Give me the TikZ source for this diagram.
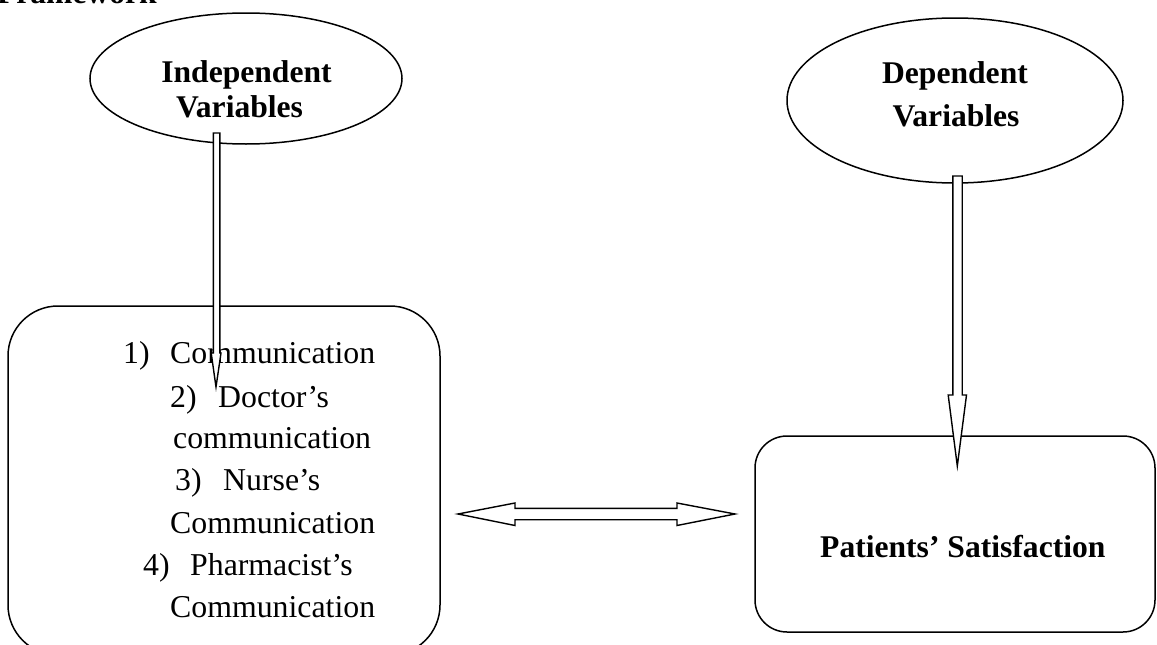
\documentclass[tikz,border=0pt]{standalone}
\usepackage{fontspec}
\setmainfont{Liberation Serif}
\usetikzlibrary{shapes.geometric}
\begin{document}
\begin{tikzpicture}[x=1pt,y=-1pt,
  outline/.style={draw=black,line width=1.5pt},
  oval/.style={outline,ellipse,inner sep=0pt},
  roundbox/.style={outline,rectangle,inner sep=0pt},
  blockarrow/.style={draw=black,fill=white,line width=1.4pt,line join=miter},
  boldtxt/.style={inner sep=0pt,font=\fontsize{31.6}{38}\selectfont\bfseries},
  plaintxt/.style={inner sep=0pt,anchor=base west,font=\fontsize{31.8}{38}\selectfont}]
\useasboundingbox (0,0) rectangle (1157,645);
% title (clipped at top)
\node[boldtxt,anchor=base east] (title) at (157,3) {Framework};
% ellipses
\node[oval,minimum width=312pt,minimum height=131pt] (indep) at (246,78.5) {};
\node[oval,minimum width=336pt,minimum height=165pt] (dep) at (955,100.5) {};
\node[boldtxt,anchor=base] (indepA) at (246.5,82) {Independent};
\node[boldtxt,anchor=base] (indepB) at (239.5,117) {Variables};
\node[boldtxt,anchor=base] (depA) at (955,83) {Dependent};
\node[boldtxt,anchor=base] (depB) at (956,126) {Variables};
% boxes
\node[roundbox,rounded corners=50pt,minimum width=432pt,minimum height=349pt] (left) at (224,480.5) {};
\node[roundbox,rounded corners=32pt,minimum width=400pt,minimum height=196pt] (right) at (955,534) {};
\node[boldtxt,anchor=base west] (sat) at (820,557) {Patients’ Satisfaction};
% list
\node[plaintxt] (n1) at (123,363) {1)};
\node[plaintxt] (t1) at (170,363) {Communication};
\node[plaintxt] (n2) at (170,407) {2)};
\node[plaintxt] (t2) at (218,407) {Doctor’s};
\node[plaintxt] (t2b) at (173,448) {communication};
\node[plaintxt] (n3) at (175,490) {3)};
\node[plaintxt] (t3) at (223,490) {Nurse’s};
\node[plaintxt] (t3b) at (170,533) {Communication};
\node[plaintxt] (n4) at (143,575) {4)};
\node[plaintxt] (t4) at (190,575) {Pharmacist’s};
\node[plaintxt] (t4b) at (170,617) {Communication};
% block arrows
\coordinate (a1top) at (216.6,133);
\coordinate (a1tip) at (216,387);
\draw[blockarrow] (213.3,133) -- (219.9,133) -- (219.9,353) -- (221,353) -- (a1tip)
  -- (211.2,353) -- (213.3,353) -- cycle;
\coordinate (a2top) at (957.5,176);
\coordinate (a2tip) at (957.3,466);
\draw[blockarrow] (952.8,176) -- (962.2,176) -- (962.2,395) -- (966.5,395) -- (a2tip)
  -- (948.2,395) -- (952.8,395) -- cycle;
\coordinate (dl) at (458,514);
\coordinate (dr) at (735,514);
\draw[blockarrow] (dl) -- (515,503) -- (515,508.3) -- (677,508.3) -- (677,503) -- (dr)
  -- (677,525.5) -- (677,519.7) -- (515,519.7) -- (515,525.5) -- cycle;
\end{tikzpicture}
\end{document}
